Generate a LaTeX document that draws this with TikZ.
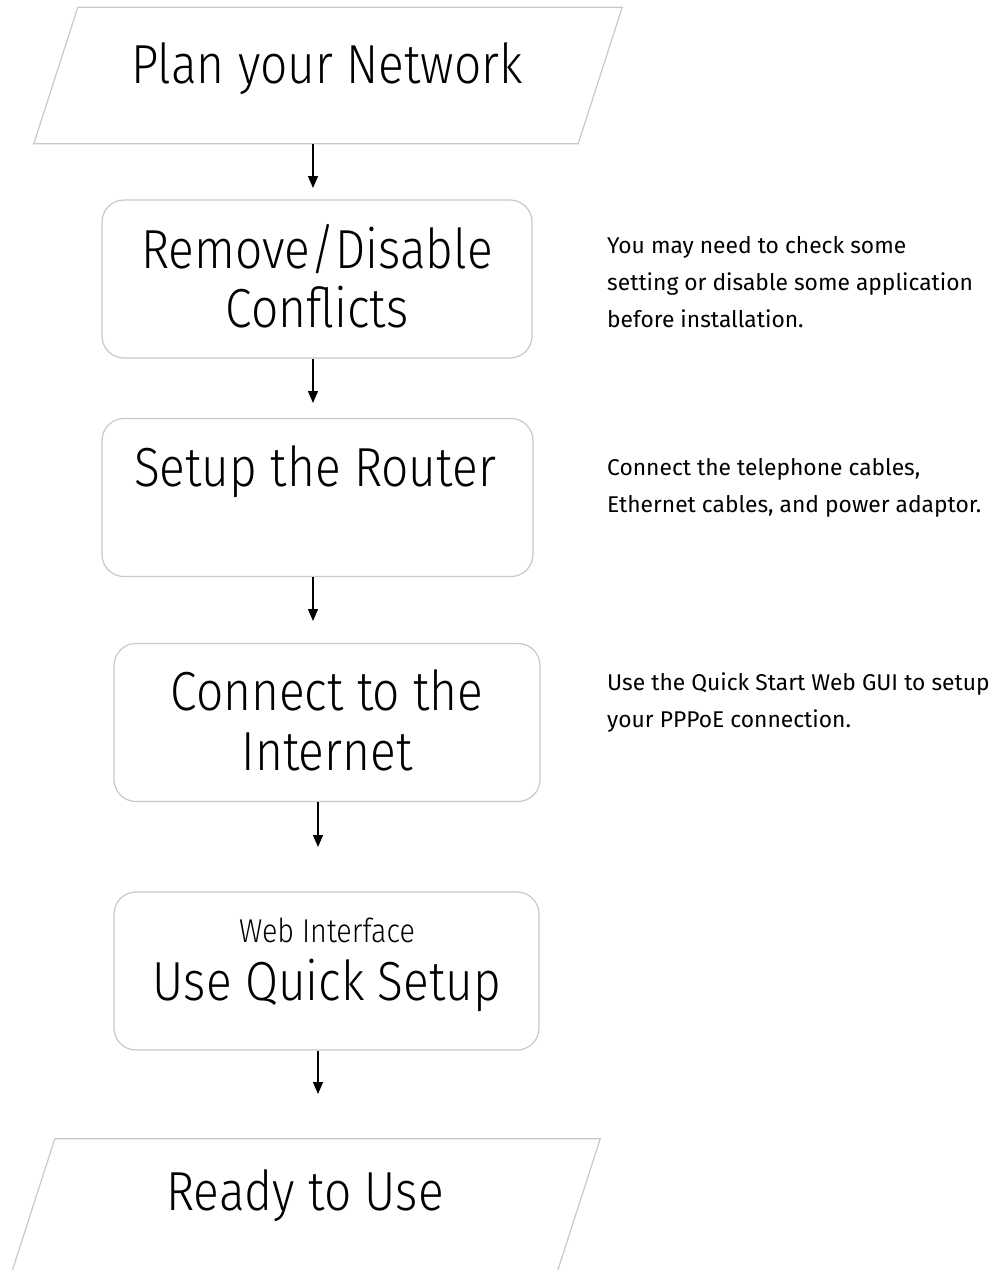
\documentclass[tikz,border=0pt]{standalone}
\usepackage{fontspec}
\setmainfont{Fira Sans}[FakeStretch=0.87, UprightFont=* Light]
\newfontfamily\notefont{Fira Sans}
\usetikzlibrary{arrows.meta}
\definecolor{edgegray}{HTML}{C8C8C8}
\tikzset{
  shapebox/.style={draw=edgegray, line width=1.2pt, rounded corners=22pt, minimum width=#1, minimum height=158pt, inner sep=0pt},
  frame/.style={draw=none, inner sep=0pt, minimum height=136pt},
  pborder/.style={draw=edgegray, line width=1.2pt},
  bigtext/.style={anchor=base, inner sep=0pt, font=\fontsize{55}{60}\selectfont},
  midtext/.style={anchor=base, inner sep=0pt, font=\fontsize{33}{38}\selectfont},
  notetext/.style={anchor=base west, inner sep=0pt, font=\notefont\fontsize{22.8}{26}\selectfont},
  arr/.style={line width=1.3pt, -{Triangle[length=12pt,width=10pt]}}
}
\begin{document}
\begin{tikzpicture}[x=1pt,y=-1pt]
\useasboundingbox (0,0) rectangle (1008,1270);
% parallelogram frames
\node[frame, minimum width=588pt] (p1) at (328,75.5) {};
\draw[pborder] ([xshift=44pt]p1.north west) -- (p1.north east) -- ([xshift=-44pt]p1.south east) -- (p1.south west) -- cycle;
\node[frame, minimum width=589pt] (p2) at (305.5,1207) {};
\draw[pborder] ([xshift=44pt]p2.north west) -- (p2.north east) -- ([xshift=-44pt]p2.south east) -- (p2.south west) -- cycle;
% rounded boxes
\node[shapebox=430pt] (b1) at (317,279) {};
\node[shapebox=431pt] (b2) at (317.5,497.5) {};
\node[shapebox=426pt] (b3) at (327,722.5) {};
\node[shapebox=425pt] (b4) at (326.5,971) {};
% texts in shapes
\node[bigtext] (t0) at (327,83) {Plan your Network};
\node[bigtext] (t1a) at (317,268) {Remove/Disable};
\node[bigtext] (t1b) at (317,327) {Conflicts};
\node[bigtext] (t2) at (315,486) {Setup the Router};
\node[bigtext] (t3a) at (327,710) {Connect to the};
\node[bigtext] (t3b) at (327,770) {Internet};
\node[midtext] (t4a) at (327,942) {Web Interface};
\node[bigtext] (t4b) at (327,1000) {Use Quick Setup};
\node[bigtext] (t5) at (305,1210) {Ready to Use};
% notes
\node[notetext] (n1a) at (607,253) {You may need to check some};
\node[notetext] (n1b) at (607,290) {setting or disable some application};
\node[notetext] (n1c) at (607,327) {before installation.};
\node[notetext] (n2a) at (607,475) {Connect the telephone cables,};
\node[notetext] (n2b) at (607,512) {Ethernet cables, and power adaptor.};
\node[notetext] (n3a) at (607,690) {Use the Quick Start Web GUI to setup};
\node[notetext] (n3b) at (607,727) {your PPPoE connection.};
% arrow tips
\coordinate (e1) at (313,188);
\coordinate (e2) at (313,403);
\coordinate (e3) at (313,621);
\coordinate (e4) at (318,847);
\coordinate (e5) at (318,1094);
\draw[arr] (p1.south -| e1) -- (e1);
\draw[arr] (b1.south -| e2) -- (e2);
\draw[arr] (b2.south -| e3) -- (e3);
\draw[arr] (b3.south -| e4) -- (e4);
\draw[arr] (b4.south -| e5) -- (e5);
\end{tikzpicture}
\end{document}
